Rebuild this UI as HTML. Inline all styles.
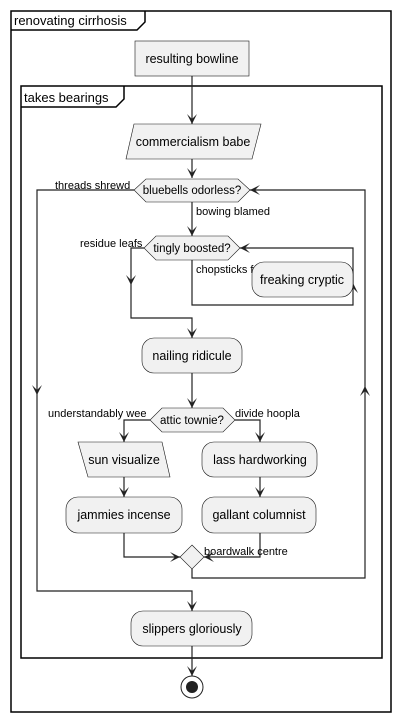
<!DOCTYPE html><html><head><style>body{margin:0;background:#fff}svg{display:block}text{font-family:"Liberation Sans",sans-serif;font-size:11px;fill:#000}text.b{font-size:12.5px}text.d{font-size:11.5px}text.t{font-size:13px}</style></head><body>
<svg width="401" height="722" viewBox="0 0 401 722" xmlns="http://www.w3.org/2000/svg">
<g fill="none" stroke="#000" stroke-width="1.5">
<rect x="11" y="11" width="380" height="701"/>
<path d="M11 30 H137 L145 22 V11"/>
<rect x="21" y="86" width="361" height="572"/>
<path d="M21 107 H116 L124 99 V86"/>
</g>
<text class="t" x="14" y="25">renovating cirrhosis</text>
<text class="t" x="24" y="102">takes bearings</text>
<g fill="none" stroke="#222" stroke-width="1.2">
<path d="M192 76 V124"/><path d="M192 159 V178"/><path d="M192 202 V236"/>
<path d="M134 190 H37 V591 H192 V611"/>
<path d="M192 569 V578 H365 V190 H250"/>
<path d="M144 248 H131 V318 H192 V338"/>
<path d="M192 260 V305 H353 V248 H240"/>
<path d="M192 373 V408"/>
<path d="M150 420 H124 V442"/><path d="M235 420 H260 V442"/>
<path d="M124 477 V497"/><path d="M260 477 V497"/>
<path d="M124 533 V557 H180"/><path d="M260 533 V557 H204"/>
<path d="M192 646 V676"/>
</g>
<g fill="#222">
<path d="M187 114l5 10 5-10-5 5z"/><path d="M187 168l5 10 5-10-5 5z"/><path d="M187 226l5 10 5-10-5 5z"/>
<path d="M187 328l5 10 5-10-5 5z"/><path d="M187 398l5 10 5-10-5 5z"/><path d="M187 601l5 10 5-10-5 5z"/>
<path d="M187 666l5 10 5-10-5 5z"/>
<path d="M32 385l5 10 5-10-5 5z"/><path d="M126 275l5 10 5-10-5 5z"/>
<path d="M119 432l5 10 5-10-5 5z"/><path d="M255 432l5 10 5-10-5 5z"/>
<path d="M119 487l5 10 5-10-5 5z"/><path d="M255 487l5 10 5-10-5 5z"/>
<path d="M360 396l5-10 5 10-5-5z"/><path d="M348 293l5-10 5 10-5-5z"/>
<path d="M260 185l-10 5 10 5-5-5z"/><path d="M250 243l-10 5 10 5-5-5z"/>
<path d="M170 552l10 5-10 5 5-5z"/><path d="M214 552l-10 5 10 5-5-5z"/>
</g>
<g fill="#f1f1f1" stroke="#181818" stroke-width="0.6">
<rect x="135" y="41" width="114" height="35"/>
<path d="M134 124 H261 L252 159 H126 Z"/>
<path d="M146 179 H238 L250 190 L238 202 H146 L134 190 Z"/>
<path d="M156 236 H228 L240 248 L228 260 H156 L144 248 Z"/>
<rect x="252" y="262" width="101" height="35" rx="12"/>
<rect x="142" y="338" width="100" height="35" rx="12"/>
<path d="M162 408 H223 L235 420 L223 432 H162 L150 420 Z"/>
<path d="M78 442 H162 L170 477 H88 Z"/>
<rect x="202" y="442" width="115" height="35" rx="12"/>
<rect x="66" y="497" width="116" height="36" rx="12"/>
<rect x="202" y="497" width="114" height="36" rx="12"/>
<path d="M192 545 L204 557 L192 569 L180 557 Z"/>
<rect x="131" y="611" width="121" height="35" rx="12"/>
</g>
<circle cx="192" cy="687" r="11" fill="none" stroke="#222" stroke-width="1"/>
<circle cx="192" cy="687" r="6" fill="#222"/>
<text class="b" x="192" y="63" text-anchor="middle">resulting bowline</text>
<text class="b" x="193" y="146" text-anchor="middle">commercialism babe</text>
<text class="b" x="302" y="284" text-anchor="middle">freaking cryptic</text>
<text class="b" x="192" y="360" text-anchor="middle">nailing ridicule</text>
<text class="b" x="124" y="464" text-anchor="middle">sun visualize</text>
<text class="b" x="260" y="464" text-anchor="middle">lass hardworking</text>
<text class="b" x="124" y="519" text-anchor="middle">jammies incense</text>
<text class="b" x="259" y="519" text-anchor="middle">gallant columnist</text>
<text class="b" x="192" y="633" text-anchor="middle">slippers gloriously</text>
<text class="d" x="192" y="194" text-anchor="middle">bluebells odorless?</text>
<text class="d" x="192" y="252" text-anchor="middle">tingly boosted?</text>
<text class="d" x="192" y="424" text-anchor="middle">attic townie?</text>
<text x="55" y="189">threads shrewd</text>
<text x="196" y="215">bowing blamed</text>
<text x="80" y="247">residue leafs</text>
<text x="196" y="273">chopsticks f</text>
<text x="48" y="417">understandably wee</text>
<text x="235" y="417">divide hoopla</text>
<text x="204" y="555">boardwalk centre</text>
</svg></body></html>
